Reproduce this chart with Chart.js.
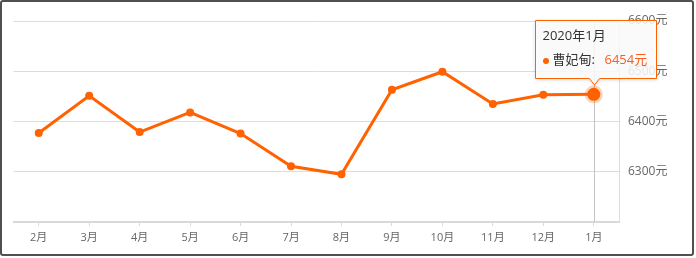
<!DOCTYPE html>
<html>
<head>
<meta charset="utf-8">
<script src="https://cdn.jsdelivr.net/npm/chart.js@4/dist/chart.umd.min.js"></script>
<style>
  html, body { margin: 0; padding: 0; background: #fff; }
  #wrap { position: relative; width: 696px; height: 258px; }
  #frame {
    position: absolute; left: 0; top: 0; width: 690px; height: 252px;
    border: 2px solid #505050; border-radius: 3px; pointer-events: none;
  }
  canvas { position: absolute; left: 0; top: 0; }
</style>
</head>
<body>
<div id="wrap">
  <canvas id="c" width="696" height="258"></canvas>
  <div id="frame"></div>
</div>
<script>
// 曹妃甸 monthly average price (元/㎡)
const months = ['2月', '3月', '4月', '5月', '6月', '7月', '8月', '9月', '10月', '11月', '12月', '1月'];
const prices = [6377, 6451, 6379, 6418, 6376, 6311, 6295, 6463, 6499, 6435, 6453, 6454];
const seriesName = '曹妃甸';
const yTicks = [6300, 6400, 6500, 6600];
const yMin = 6200;
const yMax = 6600;
const focusIndex = 11;
const focusTitle = '2020年1月';

const ORANGE = '#ff6200';
const FONT = "'Open Sans', 'Noto Sans CJK SC', sans-serif";

// vertical hover line behind the series
const crosshair = {
  id: 'crosshair',
  beforeDatasetsDraw(chart) {
    const el = chart.getDatasetMeta(0).data[focusIndex];
    const a = chart.chartArea;
    const ctx = chart.ctx;
    ctx.save();
    ctx.strokeStyle = '#c4c4c4';
    ctx.lineWidth = 1;
    ctx.beginPath();
    ctx.moveTo(Math.round(el.x) + 0.5, a.top);
    ctx.lineTo(Math.round(el.x) + 0.5, a.bottom);
    ctx.stroke();
    ctx.restore();
  }
};

// tooltip box with caret pointing at the focused point
const priceTip = {
  id: 'priceTip',
  afterDraw(chart) {
    const el = chart.getDatasetMeta(0).data[focusIndex];
    const ctx = chart.ctx;
    const w = 121, h = 58;
    const left = Math.round(el.x) - 58.5;
    const top = Math.round(el.y) - 73.5;
    const cx = Math.round(el.x) + 0.5;
    const bottom = top + h;
    ctx.save();
    ctx.beginPath();
    ctx.moveTo(left, top);
    ctx.lineTo(left + w, top);
    ctx.lineTo(left + w, bottom);
    ctx.lineTo(cx + 5, bottom);
    ctx.lineTo(cx, bottom + 6.5);
    ctx.lineTo(cx - 5, bottom);
    ctx.lineTo(left, bottom);
    ctx.closePath();
    ctx.shadowColor = 'rgba(0,0,0,0.18)';
    ctx.shadowBlur = 4;
    ctx.shadowOffsetY = 1;
    ctx.fillStyle = 'rgba(255,255,255,0.86)';
    ctx.fill();
    ctx.shadowColor = 'transparent';
    ctx.strokeStyle = ORANGE;
    ctx.lineWidth = 1;
    ctx.stroke();

    ctx.textBaseline = 'middle';
    ctx.textAlign = 'left';
    ctx.font = '13px ' + FONT;
    ctx.fillStyle = '#333';
    ctx.fillText(focusTitle, left + 7, top + 16);

    ctx.fillStyle = ORANGE;
    ctx.beginPath();
    ctx.arc(left + 10.5, top + 40.5, 3, 0, Math.PI * 2);
    ctx.fill();

    ctx.fillStyle = '#333';
    ctx.fillText(seriesName + ':', left + 17, top + 40);
    ctx.fillStyle = '#ff5a1e';
    ctx.fillText(chart.data.datasets[0].data[focusIndex] + '元', left + 69, top + 40);
    ctx.restore();
  }
};

new Chart(document.getElementById('c'), {
  type: 'line',
  data: {
    labels: months,
    datasets: [{
      label: seriesName,
      data: prices,
      borderColor: ORANGE,
      backgroundColor: ORANGE,
      borderWidth: 3,
      tension: 0,
      fill: false,
      pointRadius: c => c.dataIndex === focusIndex ? 6.5 : 4,
      pointBorderWidth: c => c.dataIndex === focusIndex ? 5 : 0,
      pointBorderColor: c => c.dataIndex === focusIndex ? 'rgba(255,98,0,0.28)' : ORANGE,
      pointBackgroundColor: ORANGE
    }]
  },
  options: {
    responsive: false,
    animation: false,
    devicePixelRatio: 1,
    layout: { padding: { left: 13.5, top: 21, right: 0, bottom: 0 } },
    plugins: { legend: { display: false }, tooltip: { enabled: false } },
    scales: {
      x: {
        offset: true,
        grid: { display: true, offset: false, drawOnChartArea: false, tickLength: 4, color: '#d9d9d9', lineWidth: 1 },
        border: { display: true, color: '#d9d9d9', width: 2 },
        ticks: { color: '#666', font: { family: FONT, size: 11 }, padding: 5, maxRotation: 0, autoSkip: false },
        afterFit(scale) { scale.height = 36; }
      },
      y: {
        position: 'right',
        min: yMin,
        max: yMax,
        afterBuildTicks(scale) { scale.ticks = yTicks.map(v => ({ value: v })); },
        grid: { color: '#dcdcdc', lineWidth: 1, drawTicks: false },
        border: { display: true, color: '#dcdcdc', width: 1 },
        ticks: {
          color: '#666',
          padding: 9,
          font: { family: FONT, size: 12 },
          callback: v => v + '元'
        },
        afterFit(scale) { scale.width = 77; }
      }
    }
  },
  plugins: [crosshair, priceTip]
});
</script>
</body>
</html>
